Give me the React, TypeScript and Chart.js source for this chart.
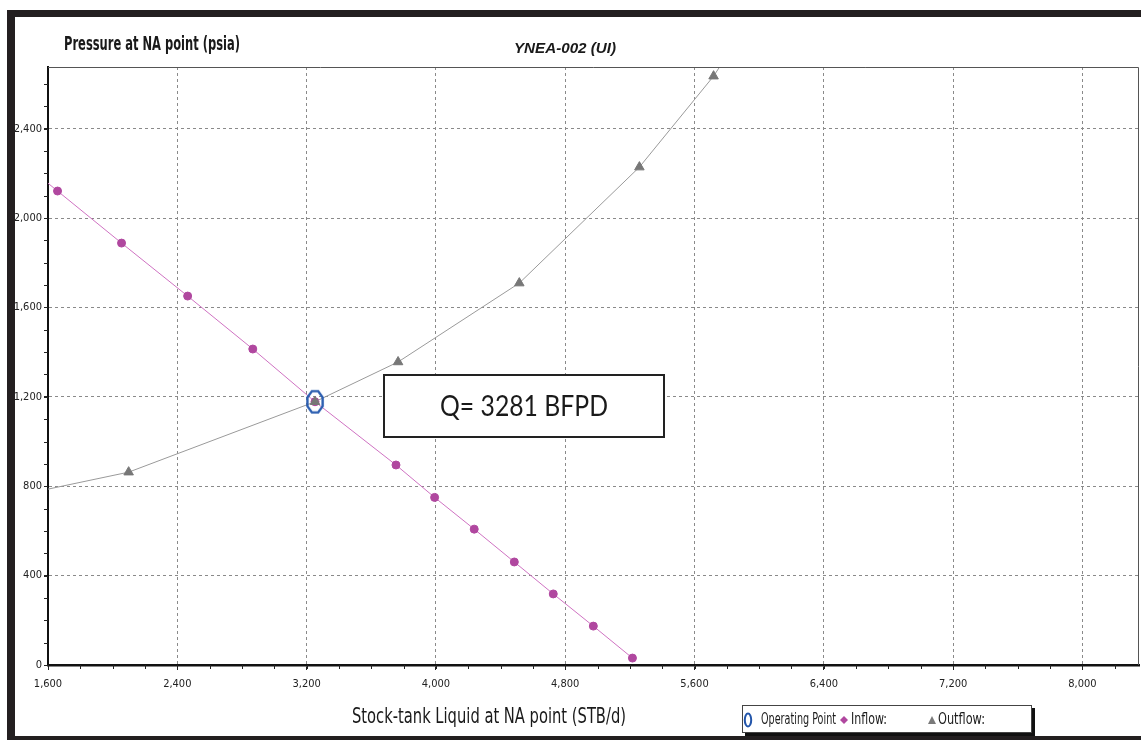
import React, { useEffect, useRef } from 'react';
import { Chart, registerables } from 'chart.js';

Chart.register(...registerables);

const chartTitle = 'YNEA-002 (UI)';
const yAxisTitle = 'Pressure at NA point (psia)';
const xAxisTitle = 'Stock-tank Liquid at NA point (STB/d)';
const annotationText = 'Q= 3281 BFPD';
const legendLabels = ['Operating Point', 'Inflow:', 'Outflow:'];

const xTicks = [1600, 2400, 3200, 4000, 4800, 5600, 6400, 7200, 8000];
const yTicks = [0, 400, 800, 1200, 1600, 2000, 2400];
const xRange = [1600, 8350];
const yRange = [0, 2676];

// Inflow (IPR) curve; first entry is where the line meets the left frame
const inflowRate = [1600, 1659, 2055, 2464, 2867, 3252, 3753, 3992, 4237, 4485, 4726, 4974, 5216];
const inflowPressure = [2156, 2121, 1888, 1651, 1414, 1178, 895, 750, 608, 461, 318, 174, 31];

// Outflow (VLP) curve; first / last entries are where the line meets the frame
const outflowRate = [1600, 2099, 3252, 3766, 4516, 5259, 5718, 5755];
const outflowPressure = [787, 863, 1178, 1356, 1709, 2228, 2635, 2676];

const operatingRate = [3252];
const operatingPressure = [1178];

const NARROW = "'Liberation Sans Narrow', 'DejaVu Sans Condensed', 'Arial Narrow', sans-serif";

function makeOctagon(w: number, h: number, color: string, lw: number) {
  const c = document.createElement('canvas');
  c.width = w;
  c.height = h;
  const ctx = c.getContext('2d')!;
  const cx = w / 2, cy = h / 2, rx = w / 2 - lw, ry = h / 2 - lw;
  ctx.beginPath();
  for (let i = 0; i < 8; i++) {
    const a = Math.PI / 8 + (i * Math.PI) / 4;
    const px = cx + (rx * Math.cos(a)) / Math.cos(Math.PI / 8);
    const py = cy + (ry * Math.sin(a)) / Math.cos(Math.PI / 8);
    const qx = Math.max(lw / 2, Math.min(px, w - lw / 2));
    const qy = Math.max(lw / 2, Math.min(py, h - lw / 2));
    if (i === 0) ctx.moveTo(qx, qy);
    else ctx.lineTo(qx, qy);
  }
  ctx.closePath();
  ctx.lineWidth = lw;
  ctx.strokeStyle = color;
  ctx.stroke();
  return c;
}

// draw text squeezed horizontally so that it spans targetWidth
function fitText(ctx: CanvasRenderingContext2D, text: string, x: number, y: number, targetWidth: number, align: 'left' | 'center') {
  const w = ctx.measureText(text).width;
  const sx = w > 0 ? targetWidth / w : 1;
  ctx.save();
  ctx.textAlign = 'left';
  const startX = align === 'center' ? x - targetWidth / 2 : x;
  ctx.translate(startX, y);
  ctx.scale(sx, 1);
  ctx.fillText(text, 0, 0);
  ctx.restore();
}

const decorPlugin = {
  id: 'decor',
  afterDraw(chart: any) {
    const ctx = chart.ctx as CanvasRenderingContext2D;
    const { left, right, top, bottom } = chart.chartArea;
    const xs = chart.scales.x;
    const ys = chart.scales.y;
    ctx.save();

    // plot top/right border
    ctx.strokeStyle = '#555';
    ctx.lineWidth = 1;
    ctx.beginPath();
    ctx.moveTo(left, top + 0.5);
    ctx.lineTo(right - 0.5, top + 0.5);
    ctx.lineTo(right - 0.5, bottom);
    ctx.stroke();

    // minor ticks
    ctx.strokeStyle = '#222';
    ctx.beginPath();
    for (let v = xRange[0]; v <= xRange[1]; v += 200) {
      const px = Math.round(xs.getPixelForValue(v)) + 0.5;
      ctx.moveTo(px, bottom);
      ctx.lineTo(px, bottom + 4);
    }
    for (let v = yRange[0]; v <= yRange[1]; v += 100) {
      const py = Math.round(ys.getPixelForValue(v)) + 0.5;
      ctx.moveTo(left - 4, py);
      ctx.lineTo(left, py);
    }
    ctx.stroke();

    // outer black frame
    ctx.fillStyle = '#231f20';
    ctx.fillRect(7, 10, 1134, 7);
    ctx.fillRect(7, 10, 8, 730);
    ctx.fillRect(7, 736, 1134, 4);

    // titles
    ctx.fillStyle = '#1a1a1a';
    ctx.textBaseline = 'middle';
    ctx.font = `bold 19px ${NARROW}`;
    fitText(ctx, yAxisTitle, 64, 45, 176, 'left');
    ctx.font = "italic bold 15px 'Liberation Sans', Arial, sans-serif";
    fitText(ctx, chartTitle, 565, 49, 102, 'center');
    ctx.font = `21px ${NARROW}`;
    fitText(ctx, xAxisTitle, 489, 718, 274, 'center');

    // annotation box
    ctx.fillStyle = '#fff';
    ctx.fillRect(384, 375, 280, 62);
    ctx.strokeStyle = '#222';
    ctx.lineWidth = 2;
    ctx.strokeRect(384, 375, 280, 62);
    ctx.fillStyle = '#1a1a1a';
    ctx.font = "28px Lato, 'Open Sans', sans-serif";
    fitText(ctx, annotationText, 524, 407, 168, 'center');

    // legend
    ctx.fillStyle = '#111';
    ctx.fillRect(745, 708, 290, 28);
    ctx.fillStyle = '#fff';
    ctx.fillRect(742, 705, 290, 28);
    ctx.strokeStyle = '#444';
    ctx.lineWidth = 1;
    ctx.strokeRect(742.5, 705.5, 289, 27);
    const ly = 720;
    ctx.strokeStyle = '#2255aa';
    ctx.lineWidth = 2;
    ctx.beginPath();
    ctx.ellipse(748, ly, 3.2, 6.5, 0, 0, Math.PI * 2);
    ctx.stroke();
    ctx.fillStyle = '#b0479f';
    ctx.beginPath();
    ctx.moveTo(844, ly - 4);
    ctx.lineTo(848, ly);
    ctx.lineTo(844, ly + 4);
    ctx.lineTo(840, ly);
    ctx.closePath();
    ctx.fill();
    ctx.fillStyle = '#7a7a7a';
    ctx.beginPath();
    ctx.moveTo(932, ly - 4);
    ctx.lineTo(936, ly + 4);
    ctx.lineTo(928, ly + 4);
    ctx.closePath();
    ctx.fill();
    ctx.fillStyle = '#1a1a1a';
    ctx.font = `15px ${NARROW}`;
    fitText(ctx, legendLabels[0], 761, ly, 75, 'left');
    fitText(ctx, legendLabels[1], 851, ly, 36, 'left');
    fitText(ctx, legendLabels[2], 938, ly, 47, 'left');

    ctx.restore();
  },
};

export default function App() {
  const ref = useRef<HTMLCanvasElement | null>(null);

  useEffect(() => {
    const canvas = ref.current;
    if (!canvas) return;
    const octagon = makeOctagon(20, 26, '#2a5db0', 2.4);
    const chart = new Chart(canvas, {
      type: 'scatter',
      data: {
        datasets: [
          {
            label: legendLabels[0],
            data: operatingRate.map((x, i) => ({ x, y: operatingPressure[i] })),
            pointStyle: octagon as any,
            pointRadius: 10,
            showLine: false,
          },
          {
            label: legendLabels[2],
            data: outflowRate.map((x, i) => ({ x, y: outflowPressure[i] })),
            showLine: true,
            borderColor: '#9a9a9a',
            borderWidth: 1,
            pointStyle: 'triangle',
            pointRadius: outflowRate.map((_, i) => (i === 0 || i === outflowRate.length - 1 ? 0 : 5.5)),
            pointBackgroundColor: '#777',
            pointBorderColor: '#777',
            pointBorderWidth: 1,
          },
          {
            label: legendLabels[1],
            data: inflowRate.map((x, i) => ({ x, y: inflowPressure[i] })),
            showLine: true,
            borderColor: '#cf72c2',
            borderWidth: 1,
            pointStyle: 'circle',
            pointRadius: inflowRate.map((_, i) => (i === 0 ? 0 : 4)),
            pointBackgroundColor: '#b0479f',
            pointBorderColor: '#b0479f',
            pointBorderWidth: 1,
          },
        ],
      },
      options: {
        animation: false,
        responsive: false,
        maintainAspectRatio: false,
        layout: { autoPadding: false, padding: { top: 67, right: 2, left: 0, bottom: 0 } },
        plugins: {
          legend: { display: false },
          tooltip: { enabled: false },
          title: { display: false },
        },
        scales: {
          x: {
            type: 'linear',
            min: xRange[0],
            max: xRange[1],
            afterFit: (s: any) => {
              s.height = 75;
            },
            afterBuildTicks: (s: any) => {
              s.ticks = xTicks.map((v) => ({ value: v }));
            },
            ticks: {
              padding: 8,
              color: '#222',
              font: { family: NARROW, size: 11 },
              maxRotation: 0,
              callback: (v: any) => Number(v).toLocaleString('en-US'),
            },
            grid: {
              color: '#8a8a8a',
              lineWidth: 1,
              tickLength: 5,
              tickColor: '#222',
            },
            border: { color: '#111', width: 2.5, dash: [3, 3] },
          },
          y: {
            type: 'linear',
            min: yRange[0],
            max: yRange[1],
            afterFit: (s: any) => {
              s.width = 48;
            },
            afterBuildTicks: (s: any) => {
              s.ticks = yTicks.map((v) => ({ value: v }));
            },
            ticks: {
              padding: 2,
              color: '#222',
              font: { family: NARROW, size: 11 },
              callback: (v: any) => Number(v).toLocaleString('en-US'),
            },
            grid: {
              color: '#8a8a8a',
              lineWidth: 1,
              tickLength: 4,
              tickColor: '#222',
            },
            border: { color: '#111', width: 2, dash: [3, 3] },
          },
        },
      },
      plugins: [decorPlugin],
    });
    return () => chart.destroy();
  }, []);

  return (
    <div style={{ position: 'absolute', left: 0, top: 0, width: 1141, height: 740, background: '#fff' }}>
      <canvas ref={ref} width={1141} height={740} style={{ display: 'block', width: 1141, height: 740 }} />
    </div>
  );
}
